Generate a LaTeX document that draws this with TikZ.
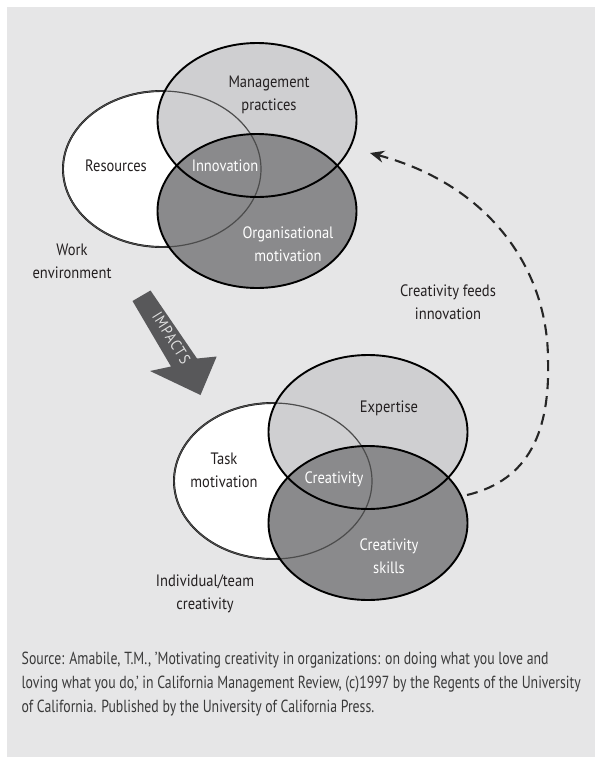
\documentclass[tikz,border=0pt]{standalone}
\usepackage{fontspec}
\usepackage{graphicx}
\setmainfont{PT Sans}
\newfontfamily\impfont[FakeStretch=0.86,LetterSpace=8]{PT Sans}
\usetikzlibrary{arrows.meta}
\definecolor{bg}{HTML}{E6E6E7}
\definecolor{lightg}{HTML}{CFCFD1}
\definecolor{darkg}{HTML}{8A8A8C}
\definecolor{arrowg}{HTML}{58585A}
\definecolor{txt}{HTML}{231F20}
\definecolor{srctxt}{HTML}{3A3A3A}
\newlength\tmpw
\newcommand\lbx[1]{\scalebox{\lblsx}[1]{#1}}
\newcommand\sbx[1]{\scalebox{\srcsx}[1]{#1}}
\AtBeginDocument{%
  \settowidth\tmpw{\fontsize{16.5}{23}\selectfont Management}%
  \pgfmathsetmacro\lblsx{81/\tmpw}%
  \settowidth\tmpw{\fontsize{17.5}{24}\selectfont loving what you do,' in California Management Review, (c)1997 by the Regents of the University}%
  \pgfmathsetmacro\srcsx{559/\tmpw}%
}
\begin{document}
\begin{tikzpicture}[x=1pt,y=-1pt,
  lbl/.style={font=\fontsize{16.5}{23}\selectfont, text=txt, align=center, inner sep=0pt},
  wlbl/.style={lbl, text=white},
  src/.style={font=\fontsize{17.5}{24}\selectfont, text=srctxt, anchor=west, inner sep=0pt},
  outline/.style={draw=black, line width=1.9pt},
  innerline/.style={draw=black!70, line width=1.2pt},
  feed/.style={draw=black!85, line width=2.1pt, dash pattern=on 11pt off 7pt, -{Stealth[length=14pt,width=12pt]}}
]
\useasboundingbox (0,0) rectangle (595,758);
\fill[bg] (7,7) rectangle (595,757);

% ---- top Venn: work environment
\filldraw[fill=white, outline] (162,169) ellipse [x radius=99pt, y radius=78pt];
\fill[lightg] (257,120) ellipse [x radius=99.5pt, y radius=77pt];
\fill[darkg] (257,211) ellipse [x radius=99.5pt, y radius=77pt];
\draw[innerline] (162,169) ellipse [x radius=99pt, y radius=78pt];
\draw[outline] (257,120) ellipse [x radius=99.5pt, y radius=77pt];
\draw[outline] (257,211) ellipse [x radius=99.5pt, y radius=77pt];

\node[lbl] (mgmt) at (269,95) {\lbx{Management}\\\lbx{practices}};
\node[lbl] (res) at (116,166) {\lbx{Resources}};
\node[wlbl] (innov) at (225,166) {\lbx{Innovation}};
\node[wlbl] (org) at (288,244) {\lbx{Organisational}\\\lbx{motivation}};
\node[lbl] (work) at (72,261) {\lbx{Work}\\\lbx{environment}};

% ---- bottom Venn: individual/team creativity
\filldraw[fill=white, outline] (273,481) ellipse [x radius=99pt, y radius=78pt];
\fill[lightg] (368,432) ellipse [x radius=99.5pt, y radius=77pt];
\fill[darkg] (368,523) ellipse [x radius=99.5pt, y radius=77pt];
\draw[innerline] (273,481) ellipse [x radius=99pt, y radius=78pt];
\draw[outline] (368,432) ellipse [x radius=99.5pt, y radius=77pt];
\draw[outline] (368,523) ellipse [x radius=99.5pt, y radius=77pt];

\node[lbl] (exp) at (389,408) {\lbx{Expertise}};
\node[lbl] (task) at (224,470) {\lbx{Task}\\\lbx{motivation}};
\node[wlbl] (crea) at (334,479) {\lbx{Creativity}};
\node[wlbl] (skills) at (389,556) {\lbx{Creativity}\\\lbx{skills}};
\node[lbl] (indiv) at (205,594) {\lbx{Individual/team}\\\lbx{creativity}};

% ---- IMPACTS arrow
\fill[arrowg] (132.5,301) -- (150.5,290.5) -- (197,358.5) -- (216.7,356.5)
  -- (200.5,395) -- (150,371) -- (171,366.5) -- cycle;
\node[font=\impfont\fontsize{15.5}{15.5}\selectfont, text=white!88!black, rotate=-58, inner sep=0pt] (imp) at (171.5,338) {IMPACTS};

% ---- feedback arrow
\coordinate (fs) at (467,495);
\coordinate (fm) at (548,360);
\coordinate (fe) at (370,153);
\draw[feed] (fs) .. controls (530,480) and (550,430) .. (fm)
  .. controls (548,270) and (490,185) .. (fe);
\node[lbl] (feeds) at (448,302) {\lbx{Creativity feeds}\\\lbx{innovation}};

% ---- source
\node[src] (s1) at (21.5,660) {\sbx{Source: Amabile, T.M., 'Motivating creativity in organizations: on doing what you love and}};
\node[src] (s2) at (21.5,684.5) {\sbx{loving what you do,' in California Management Review, (c)1997 by the Regents of the University}};
\node[src] (s3) at (21.5,708) {\sbx{of California. Published by the University of California Press.}};
\end{tikzpicture}
\end{document}
